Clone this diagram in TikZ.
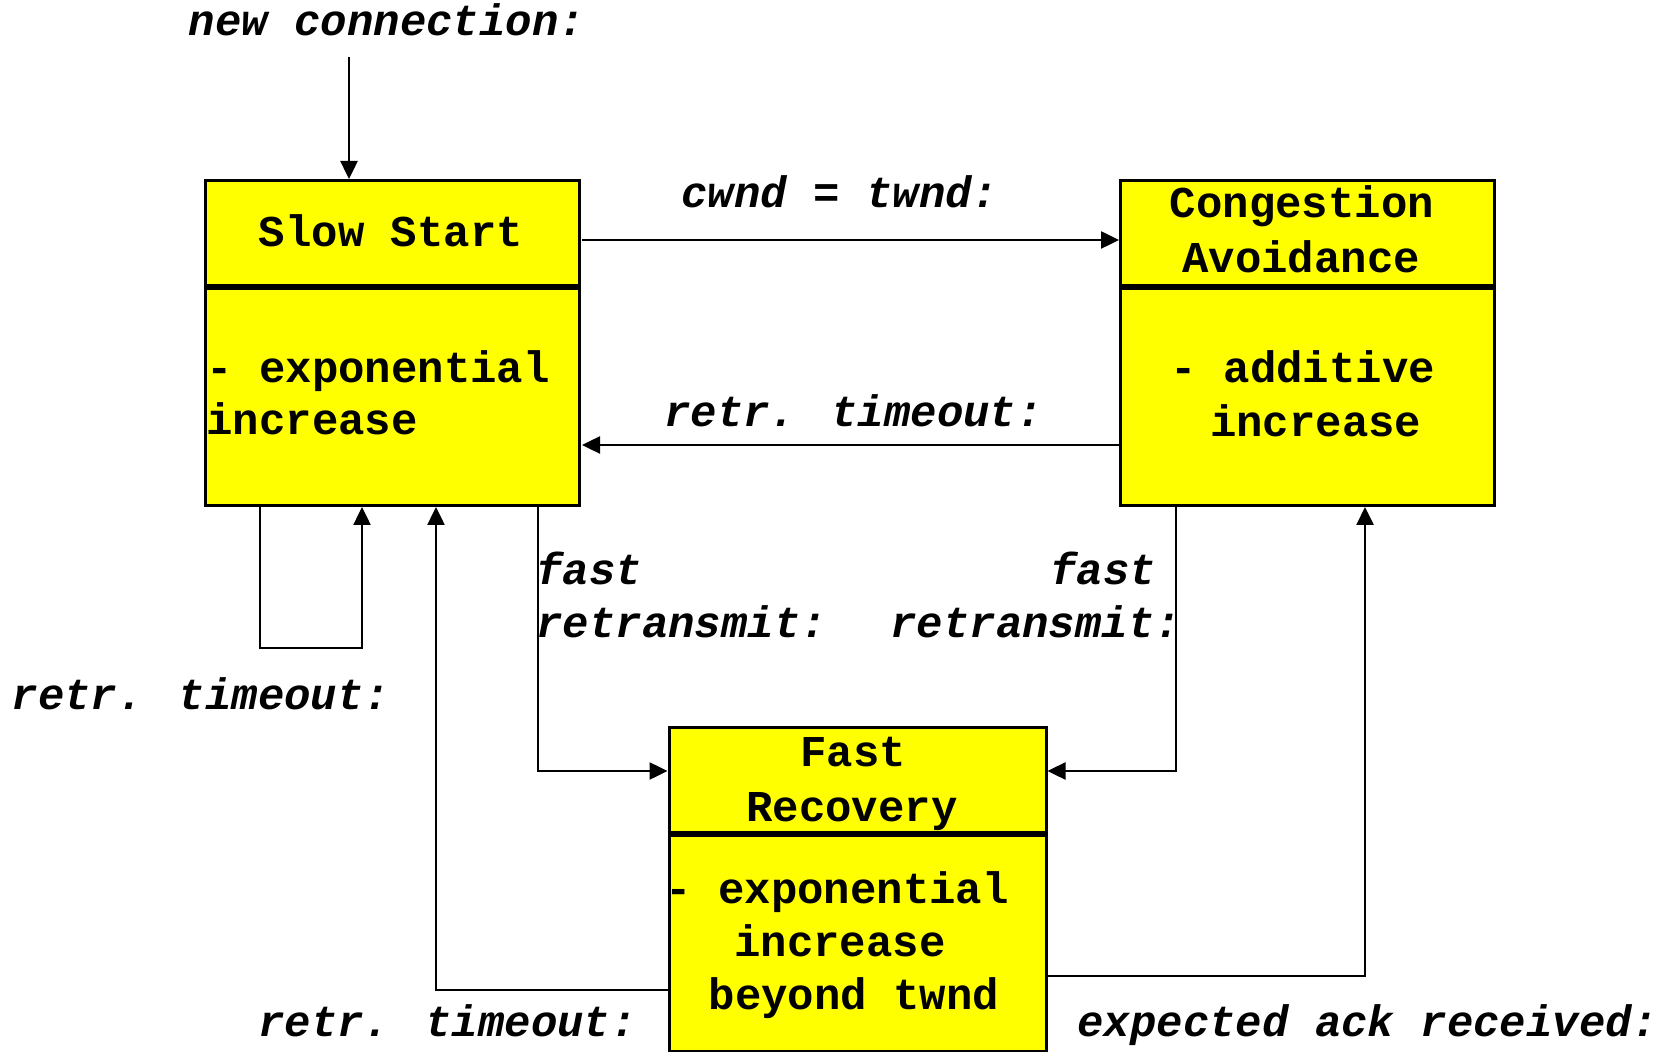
\documentclass[tikz,border=0pt]{standalone}
\usepackage{fontspec}
\newfontfamily\courfont{Liberation Mono}
\usetikzlibrary{arrows.meta,calc}
\definecolor{boxyellow}{RGB}{255,255,0}
\tikzset{
  box/.style={draw=black, fill=boxyellow, line width=1.5pt, inner sep=0pt, anchor=north west},
  divider/.style={line width=2.6pt},
  conn/.style={line width=1.25pt},
  arr/.style={conn, -{Triangle[length=9pt,width=8.5pt]}},
  lbl/.style={font=\courfont\bfseries\itshape\fontsize{22pt}{26pt}\selectfont, inner sep=0pt, anchor=base},
  txt/.style={font=\courfont\bfseries\fontsize{22pt}{26pt}\selectfont, inner sep=0pt, anchor=base},
}
\begin{document}
\begin{tikzpicture}[x=0.5pt,y=-0.5pt]
\useasboundingbox[fill=white] (0,0) rectangle (1668,1052);

% boxes
\node[box, minimum width=187pt, minimum height=162.5pt] (ss) at (204,179) {};
\node[box, minimum width=187pt, minimum height=162.5pt] (ca) at (1119,179) {};
\node[box, minimum width=188.5pt, minimum height=162pt] (fr) at (667.5,726) {};
\draw[divider] ($(ss.north west)+(0,108)$) -- ($(ss.north east)+(0,108)$);
\draw[divider] ($(ca.north west)+(0,108)$) -- ($(ca.north east)+(0,108)$);
\draw[divider] ($(fr.north west)+(0,108)$) -- ($(fr.north east)+(0,108)$);

% box texts
\node[txt] (ssT) at (391,246.5) {Slow Start};
\node[txt, anchor=base west] (ssB1) at (206,383) {- exponential};
\node[txt, anchor=base west] (ssB2) at (206,435) {increase};

\node[txt] (caT1) at (1302,218) {Congestion};
\node[txt] (caT2) at (1301,273) {Avoidance};
\node[txt] (caB1) at (1303,383) {- additive};
\node[txt] (caB2) at (1315.6,436.5) {increase};

\node[txt] (frT1) at (853,766) {Fast};
\node[txt] (frT2) at (852,821) {Recovery};
\node[txt, anchor=base west] (frB1) at (665,903) {- exponential};
\node[txt] (frB2) at (840,956.5) {increase};
\node[txt] (frB3) at (854,1009) {beyond twnd};

% connector coordinates
\coordinate (nc0) at (349,57);
\coordinate (c1) at (582,240);
\coordinate (c2) at (582,445);
\coordinate (l1) at (260,648);
\coordinate (l2) at (362,648);
\coordinate (l3) at (436,990);
\coordinate (l4) at (538,771);
\coordinate (l5) at (1176,771);
\coordinate (l6) at (1365,976);

% connectors
\draw[arr] (nc0) -- (nc0 |- ss.north);
\draw[arr] (c1) -- (c1 -| ca.west);
\draw[arr] (c2 -| ca.west) -- (c2);
\draw[arr] (l1 |- ss.south) -- (l1) -- (l2) -- (l2 |- ss.south);
\draw[arr] (l3 -| fr.west) -- (l3) -- (l3 |- ss.south);
\draw[arr] (l4 |- ss.south) -- (l4) -- (l4 -| fr.west);
\draw[arr] (l5 |- ca.south) -- (l5) -- (l5 -| fr.east);
\draw[arr] (l6 -| fr.east) -- (l6) -- (l6 |- ca.south);

% labels
\node[lbl] (lnc) at (387,36) {new connection:};
\node[lbl] (lcw) at (840,208) {cwnd = twnd:};
\node[lbl] (lrt1) at (853.5,427) {retr. timeout:};
\node[lbl] (lrt2) at (201,709) {retr. timeout:};
\node[lbl] (lrt3) at (447.5,1036) {retr. timeout:};
\node[lbl, anchor=base west] (lfa1) at (536,584) {fast};
\node[lbl, anchor=base west] (lrx1) at (536,637) {retransmit:};
\node[lbl, anchor=base west] (lfa2) at (1050,584) {fast};
\node[lbl, anchor=base west] (lrx2) at (890,637) {retransmit:};
\node[lbl] (lack) at (1368,1036) {expected ack received:};
\end{tikzpicture}
\end{document}
